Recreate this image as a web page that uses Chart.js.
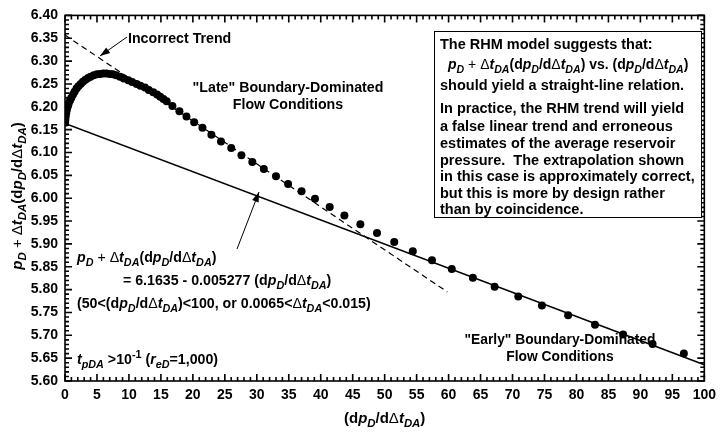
<!DOCTYPE html>
<html><head><meta charset="utf-8">
<script src="https://cdn.jsdelivr.net/npm/chart.js@4/dist/chart.umd.min.js"></script>
<style>html,body{margin:0;padding:0;background:#fff}#wrap{width:722px;height:432px;position:relative}</style>
</head><body><div id="wrap"><canvas id="c" width="722" height="432"></canvas></div>
<script>
// ---- data ----
const dotX = [0.02,0.06,0.12,0.2,0.3,0.42,0.58,0.78,1.0,1.25,1.5,1.8,2.1,2.45,2.8,3.2,3.6,4.0,4.5,5.0,5.5,6.0,6.5,7.0,7.5,8.0,8.6,9.2,9.9,10.5,11.2,11.8,12.5,13.1,13.8,14.4,14.9,15.4,15.9,16.8,17.9,19.0,20.2,21.5,22.9,24.4,26.0,27.6,29.3,31.1,33.0,34.9,37.0,39.1,41.4,43.7,46.2,48.8,51.5,54.4,57.4,60.5,63.8,67.2,70.9,74.6,78.7,82.9,87.3,91.9,96.8];
const dotY = [6.165,6.172,6.180,6.187,6.194,6.200,6.207,6.214,6.220,6.227,6.233,6.240,6.245,6.250,6.255,6.259,6.263,6.266,6.269,6.271,6.272,6.273,6.273,6.272,6.271,6.269,6.266,6.262,6.258,6.254,6.250,6.246,6.242,6.237,6.232,6.227,6.222,6.217,6.212,6.202,6.190,6.179,6.166,6.154,6.139,6.124,6.110,6.094,6.079,6.064,6.048,6.031,6.015,5.999,5.981,5.962,5.943,5.924,5.904,5.884,5.864,5.845,5.826,5.806,5.785,5.765,5.744,5.723,5.702,5.681,5.660];
const fitX = [0, 100];
const fitY = [6.1635, 5.6358];
const trendX = [0, 59.8];
const trendY = [6.357, 5.795];
const xTickLabels = [0,5,10,15,20,25,30,35,40,45,50,55,60,65,70,75,80,85,90,95,100];
const yTickLabels = [5.60,5.65,5.70,5.75,5.80,5.85,5.90,5.95,6.00,6.05,6.10,6.15,6.20,6.25,6.30,6.35,6.40];

const FONT = '"Liberation Sans", Arial, sans-serif';
const toPts = (xs, ys) => xs.map((x, i) => ({x, y: ys[i]}));

function segFont(s, size) {
  const sz = (s.sub || s.sup) ? size * 0.76 : size;
  return (s.i ? 'italic ' : '') + (s.n ? 'normal ' : 'bold ') + sz.toFixed(1) + 'px ' + FONT;
}
function richWidth(ctx, segs, size) {
  let w = 0;
  for (const s of segs) { ctx.font = segFont(s, size); w += ctx.measureText(s.t).width; }
  return w;
}
function drawRich(ctx, x, y, segs, size, align) {
  ctx.save();
  ctx.textBaseline = 'middle';
  ctx.textAlign = 'left';
  ctx.fillStyle = '#000';
  let cx = x;
  const w = richWidth(ctx, segs, size);
  if (align === 'center') cx = x - w / 2;
  else if (align === 'right') cx = x - w;
  for (const s of segs) {
    ctx.font = segFont(s, size);
    let dy = 0;
    if (s.sub) dy = size * 0.32;
    if (s.sup) dy = -size * 0.38;
    ctx.fillText(s.t, cx, y + dy);
    cx += ctx.measureText(s.t).width;
  }
  ctx.restore();
}
const T = (t) => ({t});
const pD = [{t:'p',i:1},{t:'D',i:1,sub:1}];
const dtDA = [{t:'\u0394',n:1},{t:'t',i:1},{t:'DA',i:1,sub:1}];
const deriv = [T('(d'), ...pD, T('/d'), ...dtDA, T(')')];
const yTitle = [...pD, {t:' + ',n:1}, ...dtDA, T('(d'), ...pD, T('/d'), ...dtDA, T(')')];

function arrow(ctx, x1, y1, x2, y2) {
  ctx.save();
  ctx.strokeStyle = '#000'; ctx.fillStyle = '#000'; ctx.lineWidth = 1;
  ctx.beginPath(); ctx.moveTo(x1, y1); ctx.lineTo(x2, y2); ctx.stroke();
  const a = Math.atan2(y2 - y1, x2 - x1), L = 10, W = 3.5;
  ctx.beginPath();
  ctx.moveTo(x2, y2);
  ctx.lineTo(x2 - L * Math.cos(a) + W * Math.sin(a), y2 - L * Math.sin(a) - W * Math.cos(a));
  ctx.lineTo(x2 - L * Math.cos(a) - W * Math.sin(a), y2 - L * Math.sin(a) + W * Math.cos(a));
  ctx.closePath(); ctx.fill();
  ctx.restore();
}

const decor = {
  id: 'decor',
  afterDraw(chart) {
    const ctx = chart.ctx, a = chart.chartArea, xs = chart.scales.x, ys = chart.scales.y;
    const L0 = a.left, R0 = a.right, T0 = a.top, B0 = a.bottom;
    ctx.save();
    ctx.setLineDash([]);
    ctx.strokeStyle = '#000';
    ctx.lineWidth = 1.6;
    // inward ticks on all four sides
    ctx.beginPath();
    for (let i = 0; i <= 100; i++) {
      const px = xs.getPixelForValue(i);
      const L = (i % 5 === 0) ? 7 : 4;
      ctx.moveTo(px, B0); ctx.lineTo(px, B0 - L);
      ctx.moveTo(px, T0); ctx.lineTo(px, T0 + L);
    }
    for (let j = 0; j <= 80; j++) {
      const py = ys.getPixelForValue(5.6 + j * 0.01);
      const L = (j % 5 === 0) ? 7 : 4;
      ctx.moveTo(L0, py); ctx.lineTo(L0 + L, py);
      ctx.moveTo(R0, py); ctx.lineTo(R0 - L, py);
    }
    ctx.stroke();
    ctx.lineWidth = 1.6;
    ctx.strokeRect(L0, T0, R0 - L0, B0 - T0);

    // text box
    ctx.fillStyle = '#fff';
    ctx.fillRect(434, 31, 268, 187);
    ctx.lineWidth = 1;
    ctx.strokeRect(434.5, 31.5, 267, 186);
    const S = 14.5;
    drawRich(ctx, 440, 45, [T('The RHM model suggests that:')], S, 'left');
    drawRich(ctx, 448, 65.5, [...pD, {t:' + ',n:1}, ...dtDA, ...deriv, T(' vs. '), ...deriv], 14, 'left');
    const lines = ['should yield a straight-line relation.', 'In practice, the RHM trend will yield', 'a false linear trend and erroneous', 'estimates of the average reservoir', 'pressure.  The extrapolation shown', 'in this case is approximately correct,', 'but this is more by design rather', 'than by coincidence.'];
    const ly = [86, 109, 126.5, 143.5, 160.5, 177, 193.5, 210];
    lines.forEach((l, k) => drawRich(ctx, 440, ly[k], [T(l)], S, 'left'));

    // annotations
    const A = 14.2;
    drawRich(ctx, 128, 39, [T('Incorrect Trend')], A, 'left');
    arrow(ctx, 127, 37, 100, 56);
    drawRich(ctx, 288, 88, [T('"Late" Boundary-Dominated')], A, 'center');
    drawRich(ctx, 288, 105, [T('Flow Conditions')], A, 'center');
    drawRich(ctx, 560, 340, [T('"Early" Boundary-Dominated')], 13.8, 'center');
    drawRich(ctx, 560, 357, [T('Flow Conditions')], 13.8, 'center');
    drawRich(ctx, 77, 258, [...pD, {t:' + ',n:1}, ...dtDA, ...deriv], A, 'left');
    drawRich(ctx, 123, 281, [T('= 6.1635 - 0.005277 '), ...deriv], A, 'left');
    drawRich(ctx, 77, 304, [T('(50<'), ...deriv, T('<100, or 0.0065<'), ...dtDA, T('<0.015)')], A, 'left');
    drawRich(ctx, 77, 360, [{t:'t',i:1},{t:'pDA',i:1,sub:1}, T(' >10'), {t:'-1',sup:1}, T(' ('), {t:'r',i:1},{t:'eD',i:1,sub:1}, T('=1,000)')], A, 'left');
    arrow(ctx, 237, 249, 259, 192);

    // axis titles
    drawRich(ctx, (L0 + R0) / 2, 419, [T('(d'), ...pD, T('/d'), ...dtDA, T(')')], 15, 'center');
    ctx.save();
    ctx.translate(18, 196);
    ctx.rotate(-Math.PI / 2);
    drawRich(ctx, 0, 0, yTitle, 15, 'center');
    ctx.restore();
    ctx.restore();
  }
};

new Chart(document.getElementById('c'), {
  type: 'scatter',
  data: {
    datasets: [
      { data: toPts(fitX, fitY), showLine: true, borderColor: '#000', borderWidth: 1.6, pointRadius: 0, order: 2 },
      { data: toPts(trendX, trendY), showLine: true, borderColor: '#000', borderWidth: 1.2, borderDash: [6, 4], pointRadius: 0, order: 3 },
      { data: toPts(dotX, dotY), showLine: false, backgroundColor: '#000', borderColor: '#000', pointRadius: 4, borderWidth: 0, order: 1 }
    ]
  },
  options: {
    responsive: false, animation: false, devicePixelRatio: 1,
    layout: { padding: { left: 0, top: 15, right: 16, bottom: 0 } },
    plugins: { legend: { display: false }, tooltip: { enabled: false } },
    scales: {
      x: {
        type: 'linear', min: 0, max: 100,
        afterFit: (s) => { s.height = 51; },
        afterBuildTicks: (s) => { s.ticks = xTickLabels.map(v => ({value: v})); },
        grid: { display: false, drawTicks: false },
        border: { display: false },
        ticks: { color: '#000', padding: 6, maxRotation: 0, autoSkip: false, font: { family: FONT, size: 14, weight: 'bold' }, callback: (v) => String(v) }
      },
      y: {
        type: 'linear', min: 5.6, max: 6.4,
        afterFit: (s) => { s.width = 65; },
        afterBuildTicks: (s) => { s.ticks = yTickLabels.map(v => ({value: v})); },
        grid: { display: false, drawTicks: false },
        border: { display: false },
        ticks: { color: '#000', padding: 7, autoSkip: false, font: { family: FONT, size: 14, weight: 'bold' }, callback: (v) => Number(v).toFixed(2) }
      }
    }
  },
  plugins: [decor]
});
</script></body></html>
